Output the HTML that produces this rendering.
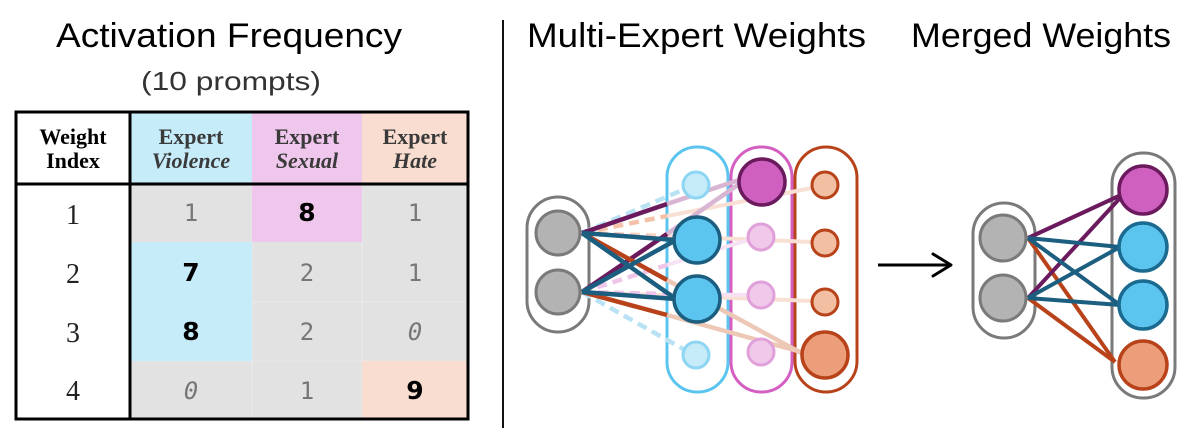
<!DOCTYPE html>
<html><head><meta charset="utf-8"><style>
html,body{margin:0;padding:0;background:#fff;}
svg{display:block;}
</style></head><body>
<svg width="1193" height="440" viewBox="0 0 1193 440" xmlns="http://www.w3.org/2000/svg">
<rect width="1193" height="440" fill="#fff"/>
<!-- Titles -->
<g font-family="Liberation Sans, sans-serif" fill="#000">
<text x="56" y="47" font-size="34" textLength="346" lengthAdjust="spacingAndGlyphs">Activation Frequency</text>
<text x="141" y="90" font-size="26" fill="#333" textLength="180" lengthAdjust="spacingAndGlyphs">(10 prompts)</text>
<text x="527" y="47" font-size="34" textLength="339" lengthAdjust="spacingAndGlyphs">Multi-Expert Weights</text>
<text x="911" y="47" font-size="34" textLength="260" lengthAdjust="spacingAndGlyphs">Merged Weights</text>
</g>
<line x1="503" y1="20" x2="503" y2="428" stroke="#111" stroke-width="2"/>

<!-- Table -->
<rect x="130" y="112" width="122" height="72" fill="#c6ebf9"/>
<rect x="252" y="112" width="110" height="72" fill="#f0c7ec"/>
<rect x="362" y="112" width="106" height="72" fill="#f9ddd0"/>
<rect x="130" y="184" width="338" height="235" fill="#e2e2e2"/>
<g stroke="#ebebeb" stroke-width="1">
<line x1="130" y1="302" x2="468" y2="302"/>
<line x1="130" y1="361" x2="468" y2="361"/>
<line x1="252" y1="184" x2="252" y2="419"/>
<line x1="362" y1="184" x2="362" y2="419"/>
</g>
<rect x="252" y="184" width="110" height="58" fill="#f0c7ec"/>
<rect x="130" y="242" width="122" height="119" fill="#c6ebf9"/>
<rect x="362" y="361" width="106" height="58" fill="#f9ddd0"/>
<rect x="16" y="112" width="452" height="307" fill="none" stroke="#000" stroke-width="3"/>
<line x1="130" y1="112" x2="130" y2="419" stroke="#000" stroke-width="3"/>
<line x1="16" y1="184" x2="468" y2="184" stroke="#000" stroke-width="3"/>

<g font-family="Liberation Serif, serif" font-weight="bold" font-size="22" text-anchor="middle">
<text x="73" y="144" fill="#000">Weight</text>
<text x="73" y="168" fill="#000">Index</text>
<text x="191" y="144" fill="#3a3a3a">Expert</text>
<text x="191" y="168" fill="#3a3a3a" font-style="italic">Violence</text>
<text x="307" y="144" fill="#3a3a3a">Expert</text>
<text x="307" y="168" fill="#3a3a3a" font-style="italic">Sexual</text>
<text x="415" y="144" fill="#3a3a3a">Expert</text>
<text x="415" y="168" fill="#3a3a3a" font-style="italic">Hate</text>
</g>
<g font-family="Liberation Serif, serif" font-size="28" text-anchor="middle" fill="#222">
<text x="73" y="224">1</text>
<text x="73" y="283">2</text>
<text x="73" y="342">3</text>
<text x="73" y="400">4</text>
</g>
<g font-family="DejaVu Sans Mono, monospace" font-size="24" text-anchor="middle" fill="#777">
<text x="191" y="221">1</text>
<text x="415" y="221">1</text>
<text x="307" y="281">2</text>
<text x="415" y="281">1</text>
<text x="307" y="340">2</text>
<text x="415" y="340" font-style="italic">0</text>
<text x="191" y="399" font-style="italic">0</text>
<text x="307" y="399">1</text>
</g>
<g font-family="DejaVu Sans, sans-serif" font-weight="bold" font-size="25" text-anchor="middle" fill="#000">
<text x="307" y="221">8</text>
<text x="191" y="281">7</text>
<text x="191" y="340">8</text>
<text x="415" y="399">9</text>
</g>

<!-- Multi-Expert network -->
<rect x="527" y="197" width="62" height="135" rx="31" fill="#fff" stroke="#7a7a7a" stroke-width="3"/>
<rect x="667" y="147" width="61" height="245" rx="30" fill="none" stroke="#5bc5ef" stroke-width="3"/>
<rect x="731" y="147" width="61" height="245" rx="30" fill="none" stroke="#d45fc1" stroke-width="3"/>
<rect x="795" y="147" width="62" height="245" rx="31" fill="none" stroke="#b8431a" stroke-width="3"/>

<g stroke-linecap="butt" fill="none">
<!-- faint continuations -->
<line x1="667" y1="216" x2="812" y2="188" stroke="#f9e0d4" stroke-width="4"/>
<line x1="667" y1="236" x2="812" y2="242" stroke="#f9e0d4" stroke-width="4"/>
<line x1="582" y1="292" x2="812" y2="301" stroke="#f9e0d4" stroke-width="4"/>
<line x1="667" y1="265" x2="748" y2="240" stroke="#f6e2f3" stroke-width="4"/>
<line x1="667" y1="294" x2="748" y2="295" stroke="#f6e2f3" stroke-width="4"/>
<line x1="667" y1="204" x2="745" y2="178" stroke="#d8b5d2" stroke-width="4.5"/>
<line x1="667" y1="234" x2="745" y2="180" stroke="#d8b5d2" stroke-width="4.5"/>
<line x1="667" y1="280" x2="805" y2="355" stroke="#eec8b6" stroke-width="4.5"/>
<line x1="667" y1="315" x2="805" y2="353" stroke="#eec8b6" stroke-width="4.5"/>
<!-- dashed -->
<line x1="582" y1="233" x2="667" y2="216" stroke="#f3c2a8" stroke-width="4.5" stroke-dasharray="10,6"/>
<line x1="582" y1="233" x2="667" y2="236" stroke="#f6d3c2" stroke-width="4.5" stroke-dasharray="10,6"/>
<line x1="582" y1="292" x2="667" y2="265" stroke="#efc6ea" stroke-width="4.5" stroke-dasharray="10,6"/>
<line x1="582" y1="292" x2="667" y2="294" stroke="#efc6ea" stroke-width="4.5" stroke-dasharray="10,6"/>
<line x1="582" y1="233" x2="685" y2="189" stroke="#b9e3f4" stroke-width="4.5" stroke-dasharray="10,6"/>
<line x1="582" y1="292" x2="685" y2="350" stroke="#b9e3f4" stroke-width="4.5" stroke-dasharray="10,6"/>
<!-- dark -->
<line x1="582" y1="233" x2="667" y2="204" stroke="#6b1a5e" stroke-width="4.5"/>
<line x1="582" y1="292" x2="667" y2="234" stroke="#6b1a5e" stroke-width="4.5"/>
<line x1="582" y1="233" x2="667" y2="280" stroke="#b8431a" stroke-width="4.5"/>
<line x1="582" y1="292" x2="667" y2="315" stroke="#b8431a" stroke-width="4.5"/>
<line x1="582" y1="233" x2="676" y2="240" stroke="#1b5e80" stroke-width="4.5"/>
<line x1="582" y1="233" x2="676" y2="299" stroke="#1b5e80" stroke-width="4.5"/>
<line x1="582" y1="292" x2="676" y2="240" stroke="#1b5e80" stroke-width="4.5"/>
<line x1="582" y1="292" x2="676" y2="299" stroke="#1b5e80" stroke-width="4.5"/>
</g>

<circle cx="558" cy="233" r="22" fill="#b3b3b3" stroke="#7a7a7a" stroke-width="3"/>
<circle cx="558" cy="292" r="22" fill="#b3b3b3" stroke="#7a7a7a" stroke-width="3"/>

<circle cx="696" cy="185" r="13" fill="#c5eaf8" stroke="#8dd6f3" stroke-width="3"/>
<circle cx="697" cy="240" r="23" fill="#5bc5ef" stroke="#1b5e80" stroke-width="3.5"/>
<circle cx="697" cy="299" r="23" fill="#5bc5ef" stroke="#1b5e80" stroke-width="3.5"/>
<circle cx="696" cy="355" r="13" fill="#c5eaf8" stroke="#8dd6f3" stroke-width="3"/>

<circle cx="762" cy="182" r="23" fill="#d060c0" stroke="#6b1a5e" stroke-width="3.5"/>
<circle cx="761" cy="237" r="13" fill="#f0c8ea" stroke="#e0a0da" stroke-width="3"/>
<circle cx="761" cy="295" r="13" fill="#f0c8ea" stroke="#e0a0da" stroke-width="3"/>
<circle cx="761" cy="352" r="13" fill="#f0c8ea" stroke="#e0a0da" stroke-width="3"/>

<circle cx="825" cy="185" r="13" fill="#f2bfa2" stroke="#b8431a" stroke-width="3"/>
<circle cx="825" cy="243" r="13" fill="#f2bfa2" stroke="#b8431a" stroke-width="3"/>
<circle cx="825" cy="302" r="13" fill="#f2bfa2" stroke="#b8431a" stroke-width="3"/>
<circle cx="825" cy="355" r="23" fill="#ec9e7a" stroke="#b8431a" stroke-width="3.5"/>

<!-- Arrow -->
<line x1="878" y1="265" x2="950" y2="265" stroke="#000" stroke-width="3"/>
<polyline points="933,254 951,265 933,276" fill="none" stroke="#000" stroke-width="3" stroke-linecap="round" stroke-linejoin="round"/>

<!-- Merged network -->
<rect x="973" y="203" width="62" height="135" rx="31" fill="#fff" stroke="#7a7a7a" stroke-width="3"/>
<rect x="1112" y="153" width="63" height="245" rx="31" fill="#fff" stroke="#7a7a7a" stroke-width="3"/>
<g stroke-width="4">
<line x1="1028" y1="238" x2="1115" y2="362" stroke="#b8431a"/>
<line x1="1028" y1="298" x2="1115" y2="362" stroke="#b8431a"/>
<line x1="1028" y1="238" x2="1121" y2="195" stroke="#6b1a5e"/>
<line x1="1028" y1="298" x2="1121" y2="197" stroke="#6b1a5e"/>
<line x1="1028" y1="238" x2="1120" y2="247" stroke="#1b5e80"/>
<line x1="1028" y1="238" x2="1120" y2="305" stroke="#1b5e80"/>
<line x1="1028" y1="298" x2="1120" y2="247" stroke="#1b5e80"/>
<line x1="1028" y1="298" x2="1120" y2="305" stroke="#1b5e80"/>
</g>
<circle cx="1003" cy="238" r="23" fill="#b3b3b3" stroke="#7a7a7a" stroke-width="3"/>
<circle cx="1003" cy="298" r="23" fill="#b3b3b3" stroke="#7a7a7a" stroke-width="3"/>
<circle cx="1143" cy="190" r="24" fill="#d060c0" stroke="#6b1a5e" stroke-width="3.5"/>
<circle cx="1143" cy="247" r="24" fill="#5bc5ef" stroke="#1b6a90" stroke-width="3.5"/>
<circle cx="1143" cy="305" r="24" fill="#5bc5ef" stroke="#1b6a90" stroke-width="3.5"/>
<circle cx="1143" cy="365" r="24" fill="#ec9e7a" stroke="#b8431a" stroke-width="3.5"/>
</svg>
</body></html>
